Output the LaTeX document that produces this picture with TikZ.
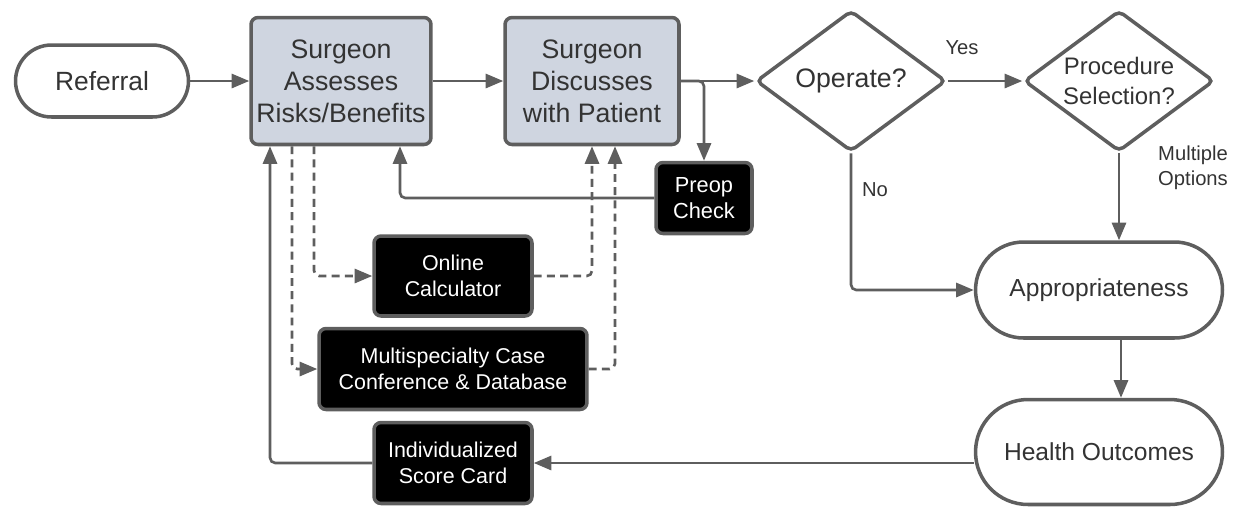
\documentclass[tikz,border=0pt]{standalone}
\usepackage{fontspec}
\setmainfont{Liberation Sans}
\usetikzlibrary{arrows.meta,shapes.geometric,calc}
\definecolor{lc}{HTML}{5E5E5E}
\definecolor{bluefill}{HTML}{CFD5E0}
\definecolor{tc}{HTML}{333333}
\begin{document}
\begin{tikzpicture}[x=0.02cm,y=-0.02cm,
  conn/.style={draw=lc,line width=1.5pt,rounded corners=3pt,-{Triangle[length=10pt,width=8pt]}},
  dconn/.style={conn,dash pattern=on 4.5pt off 3pt},
  plain/.style={draw=lc,line width=1.5pt,rounded corners=3pt},
  term/.style={draw=lc,line width=2pt,fill=white,text=tc,align=center,inner sep=0pt,font=\fontsize{15}{18}\selectfont},
  proc/.style={draw=lc,line width=2pt,fill=bluefill,text=tc,align=center,inner sep=0pt,rounded corners=4pt,font=\fontsize{15.2}{18.2}\selectfont},
  blk/.style={draw=lc,line width=2pt,fill=black,text=white,align=center,inner sep=0pt,rounded corners=4pt,font=\fontsize{12.2}{15}\selectfont},
  dec/.style={diamond,aspect=1.34,draw=lc,line width=2pt,fill=white,text=tc,align=center,inner sep=0pt,rounded corners=3pt},
  lbl/.style={text=tc,align=center,font=\fontsize{11.5}{14.5}\selectfont}]
\useasboundingbox (0,0) rectangle (1246,508);
% nodes
\node[term,minimum width=3.46cm,minimum height=1.44cm,rounded corners=0.72cm] (ref) at (102,81) {Referral};
\node[proc,minimum width=3.6cm,minimum height=2.54cm] (assess) at (341,81) {Surgeon\\Assesses\\Risks/Benefits};
\node[proc,minimum width=3.48cm,minimum height=2.54cm] (disc) at (592,81) {Surgeon\\Discusses\\with Patient};
\node[dec,minimum width=3.8cm,minimum height=2.82cm,font=\fontsize{15.2}{18}\selectfont] (op) at (851,81) {Operate?};
\node[dec,minimum width=3.8cm,minimum height=2.82cm,font=\fontsize{13.6}{17}\selectfont] (pro) at (1119,81) {Procedure\\Selection?};
\node[blk,minimum width=1.92cm,minimum height=1.42cm,font=\fontsize{12.4}{14.5}\selectfont] (preop) at (704,198) {Preop\\Check};
\node[blk,minimum width=3.16cm,minimum height=1.6cm] (online) at (453,276) {Online\\Calculator};
\node[blk,minimum width=5.36cm,minimum height=1.62cm] (multi) at (453,369) {Multispecialty Case\\Conference \& Database};
\node[blk,minimum width=3.16cm,minimum height=1.62cm] (score) at (453,463) {Individualized\\Score Card};
\node[term,minimum width=4.94cm,minimum height=1.92cm,rounded corners=0.96cm,font=\fontsize{14}{17}\selectfont] (app) at (1099,290) {Appropriateness};
\node[term,minimum width=4.94cm,minimum height=2.1cm,rounded corners=1.05cm,font=\fontsize{14}{17}\selectfont] (health) at (1099,452) {Health Outcomes};
% labels
\node[lbl] (yes) at (962,48) {Yes};
\node[lbl] (no) at (875,190) {No};
\node[lbl] (mult) at (1193,168) {Multiple\\Options};
% connectors
\draw[conn] (ref.east) -- (assess.west);
\draw[conn] (assess.east) -- (disc.west);
\draw[conn] (disc.east) -- (op.west);
\draw[conn] (disc.east) -| (preop.north);
\draw[conn] (preop.west) -| ([xshift=1.18cm]assess.south);
\draw[conn] (score.west) -| ([xshift=-1.42cm]assess.south);
\draw[dconn] ([xshift=-0.98cm]assess.south) |- (multi.west);
\draw[dconn] ([xshift=-0.54cm]assess.south) |- (online.west);
\draw[dconn] (online.east) -| (disc.south);
\draw[dconn] (multi.east) -| ([xshift=0.46cm]disc.south);
\draw[conn] (op.east) -- (pro.west);
\draw[conn] (op.south) |- (app.west);
\draw[conn] (pro.south) -- (pro.south |- app.north);
\draw[conn] ([xshift=0.44cm]app.south) -- ([xshift=0.44cm]health.north);
\draw[conn] (score.east -| health.west) -- (score.east);
\end{tikzpicture}
\end{document}
